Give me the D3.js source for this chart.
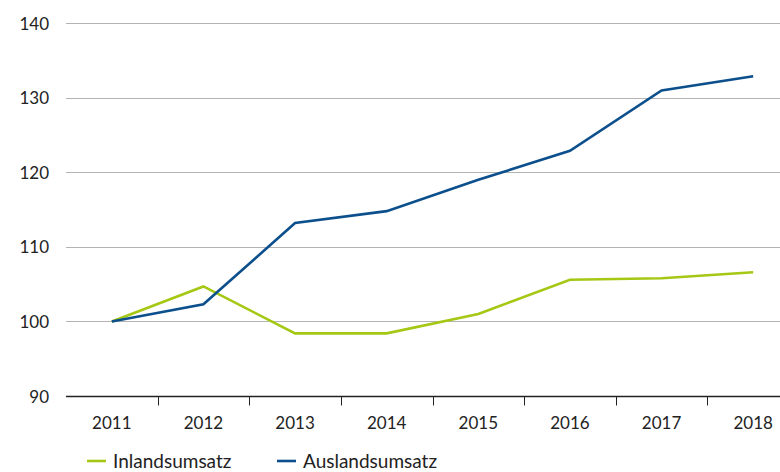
<!DOCTYPE html>
<html>
<head>
<meta charset="utf-8">
<script src="https://cdn.jsdelivr.net/npm/d3@7"></script>
<style>
  body { margin: 0; background: #fff; }
  svg { display: block; font-family: Lato, "Open Sans", sans-serif; }
</style>
</head>
<body>
<div id="chart"></div>
<script>
const years = ['2011', '2012', '2013', '2014', '2015', '2016', '2017', '2018'];
const inland = [100, 104.7, 98.4, 98.4, 101.0, 105.6, 105.8, 106.6];
const ausland = [100, 102.3, 113.2, 114.8, 119.0, 122.9, 131.0, 132.9];
const yTicks = [90, 100, 110, 120, 130, 140];
const seriesNames = ['Inlandsumsatz', 'Auslandsumsatz'];
const seriesColors = ['#a4c814', '#0b4f8c'];

const width = 780, height = 472;
const svg = d3.select('#chart').append('svg')
    .attr('width', width)
    .attr('height', height);

const x = d3.scaleBand().domain(years).range([66, 799]);
const y = d3.scaleLinear().domain([90, 140]).range([396, 23.3]);

// gridlines
svg.append('g')
    .selectAll('line')
    .data(yTicks.filter(t => t > 90))
    .enter()
    .append('line')
    .attr('x1', 66)
    .attr('x2', width)
    .attr('y1', d => Math.round(y(d)) + 0.5)
    .attr('y2', d => Math.round(y(d)) + 0.5)
    .attr('stroke', '#b4b4b4')
    .attr('stroke-width', 1);

// y labels
svg.append('g')
    .selectAll('text')
    .data(yTicks)
    .enter()
    .append('text')
    .attr('x', 49)
    .attr('y', d => y(d))
    .attr('text-anchor', 'end')
    .attr('dominant-baseline', 'central')
    .style('font-size', '17px')
    .attr('fill', '#222')
    .text(d => d);

// x axis
const axisY = Math.round(y(90)) + 0.5;
svg.append('line')
    .attr('x1', 66).attr('x2', width)
    .attr('y1', axisY).attr('y2', axisY)
    .attr('stroke', '#222').attr('stroke-width', 1.5);

svg.append('g')
    .selectAll('line')
    .data(years.slice(1))
    .enter()
    .append('line')
    .attr('x1', d => Math.round(x(d)) + 0.5)
    .attr('x2', d => Math.round(x(d)) + 0.5)
    .attr('y1', axisY)
    .attr('y2', axisY + 9)
    .attr('stroke', '#222')
    .attr('stroke-width', 1);

svg.append('g')
    .selectAll('text')
    .data(years)
    .enter()
    .append('text')
    .attr('x', d => x(d) + x.bandwidth() / 2)
    .attr('y', 422)
    .attr('text-anchor', 'middle')
    .attr('dominant-baseline', 'central')
    .style('font-size', '17px')
    .attr('fill', '#222')
    .text(d => d);

// lines
const line = d3.line()
    .x((d, i) => x(years[i]) + x.bandwidth() / 2)
    .y(d => y(d));

[inland, ausland].forEach((vals, i) => {
    svg.append('path')
        .datum(vals)
        .attr('d', line)
        .attr('fill', 'none')
        .attr('stroke', seriesColors[i])
        .attr('stroke-width', 2.6)
        .attr('stroke-linejoin', 'miter');
});

// legend
const legendX = [87, 277];
const legend = svg.append('g')
    .selectAll('g')
    .data(seriesNames)
    .enter()
    .append('g')
    .attr('transform', (d, i) => `translate(${legendX[i]}, 460)`);

legend.append('line')
    .attr('x1', 0).attr('x2', 19)
    .attr('y1', 1).attr('y2', 1)
    .attr('stroke', (d, i) => seriesColors[i])
    .attr('stroke-width', 2.6);

legend.append('text')
    .attr('x', 26)
    .attr('y', 0)
    .attr('dominant-baseline', 'central')
    .style('font-size', '19px')
    .attr('fill', '#222')
    .text(d => d);
</script>
</body>
</html>
